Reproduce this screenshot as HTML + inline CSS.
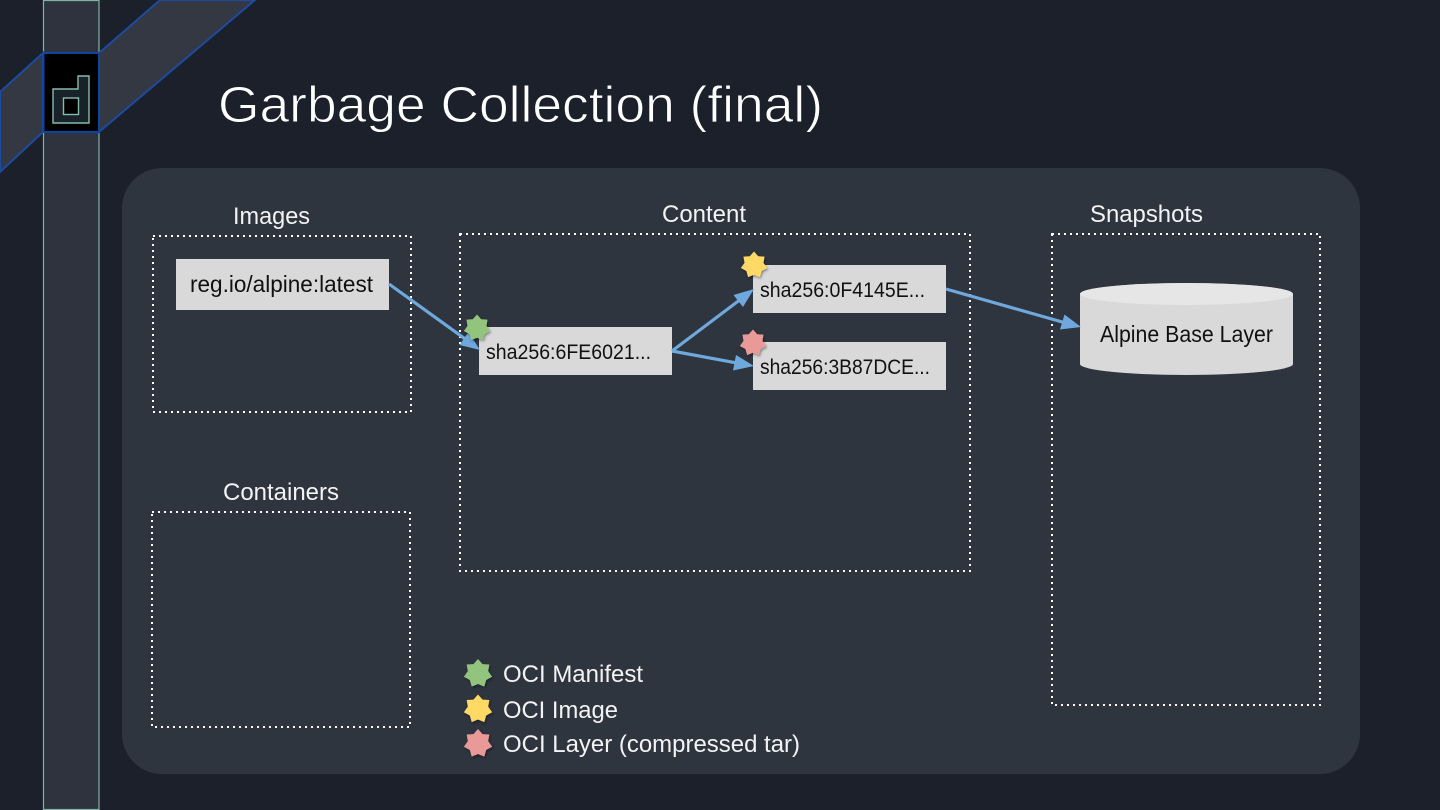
<!DOCTYPE html>
<html>
<head>
<meta charset="utf-8">
<style>
html,body{margin:0;padding:0;background:#1b202b;}
svg{display:block;}
text{font-family:"Liberation Sans",sans-serif;}
</style>
</head>
<body>
<svg width="1440" height="810" viewBox="0 0 1440 810" xmlns="http://www.w3.org/2000/svg">
<defs>
<polygon id="star" points="0,-1 .3124,-.6487 .7818,-.6235 .7019,-.1602 .9749,.2225 .5629,.4489 .4339,.901 0,.72 -.4339,.901 -.5629,.4489 -.9749,.2225 -.7019,-.1602 -.7818,-.6235 -.3124,-.6487"/>
<filter id="sh" x="-30%" y="-30%" width="170%" height="170%"><feDropShadow dx="1" dy="1.5" stdDeviation="1.2" flood-color="#000" flood-opacity=".4"/></filter>
</defs>
<rect width="1440" height="810" fill="#1b202b"/>
<rect x="43.500" y="0.500" width="55.500" height="809" fill="#2e333e" stroke="#7fb5a6" stroke-width="1.200"/>
<polygon points="99,53 160,0 255,0 99,132" fill="#343843" stroke="#1c4ba0" stroke-width="2"/>
<polygon points="43,53 0,92 0,172 43,132" fill="#343843" stroke="#1c4ba0" stroke-width="2"/>
<rect x="43.500" y="53" width="55.500" height="79" fill="#000" stroke="#0e459f" stroke-width="2"/>
<polygon points="53,89 78,89 78,76 89,76 89,123 53,123" fill="#1a2229" stroke="#86bbae" stroke-width="1.400"/>
<rect x="63.500" y="98" width="15" height="16.500" fill="#000" stroke="#86bbae" stroke-width="1.400"/>
<text x="218" y="122" font-size="51" fill="#fff" stroke="#1b202b" stroke-width="0.900" textLength="605" lengthAdjust="spacingAndGlyphs">Garbage Collection (final)</text>
<rect x="122" y="168" width="1238" height="606" rx="40" ry="40" fill="#2f353f"/>
<g fill="none" stroke="#fff" stroke-width="2" stroke-dasharray="2 4">
<rect x="153" y="236" width="258" height="176"/>
<rect x="152" y="512" width="258" height="215"/>
<rect x="460" y="234" width="510" height="337"/>
<rect x="1052" y="234" width="268" height="471"/>
</g>
<g font-size="24" fill="#f3f3f3">
<text x="233" y="224" textLength="77" lengthAdjust="spacingAndGlyphs">Images</text>
<text x="662" y="222" textLength="84" lengthAdjust="spacingAndGlyphs">Content</text>
<text x="1090" y="222" textLength="113" lengthAdjust="spacingAndGlyphs">Snapshots</text>
<text x="223" y="500" textLength="116" lengthAdjust="spacingAndGlyphs">Containers</text>
</g>
<g fill="#d9d9d9">
<rect x="176" y="259" width="213" height="51"/>
<rect x="479" y="327" width="193" height="48"/>
<rect x="753" y="265" width="193" height="48"/>
<rect x="753" y="342" width="193" height="48"/>
</g>
<path d="M1080,294 A106.500,11 0 0 1 1293,294 L1293,364 A106.500,11 0 0 1 1080,364 Z" fill="#d9d9d9"/>
<ellipse cx="1186.500" cy="294" rx="106.500" ry="11" fill="#e6e6e6"/>
<g fill="#111" font-size="21">
<text x="190" y="292" font-size="23" textLength="183" lengthAdjust="spacingAndGlyphs">reg.io/alpine:latest</text>
<text x="486" y="359" textLength="165" lengthAdjust="spacingAndGlyphs">sha256:6FE6021...</text>
<text x="760" y="297" textLength="165" lengthAdjust="spacingAndGlyphs">sha256:0F4145E...</text>
<text x="760" y="374" textLength="170" lengthAdjust="spacingAndGlyphs">sha256:3B87DCE...</text>
<text x="1100" y="342" font-size="23" textLength="173" lengthAdjust="spacingAndGlyphs">Alpine Base Layer</text>
</g>
<g stroke="#6fa8dc" stroke-width="3.200" fill="none">
<line x1="389" y1="284" x2="466" y2="339.600"/>
<line x1="672" y1="351" x2="741" y2="299"/>
<line x1="672" y1="351" x2="738" y2="363.200"/>
<line x1="946" y1="289" x2="1064" y2="322.500"/>
</g>
<g fill="#6fa8dc">
<polygon points="480,350 459.500,345 468.500,332"/>
<polygon points="754,289 743,307 733.500,295"/>
<polygon points="754,366 733,370.500 736,355"/>
<polygon points="1081,327 1060,329.500 1064.500,314.500"/>
</g>
<g filter="url(#sh)">
<use href="#star" transform="translate(477,328) scale(13.500)" fill="#93c47d"/>
<use href="#star" transform="translate(754,265) scale(13.500)" fill="#ffd966"/>
<use href="#star" transform="translate(753,343) scale(13.500)" fill="#ea9999"/>
<use href="#star" transform="translate(478,673.500) scale(14.500)" fill="#93c47d"/>
<use href="#star" transform="translate(478,709) scale(14.500)" fill="#ffd966"/>
<use href="#star" transform="translate(478,743.500) scale(14.500)" fill="#ea9999"/>
</g>
<g font-size="24" fill="#f3f3f3">
<text x="503" y="682" textLength="140" lengthAdjust="spacingAndGlyphs">OCI Manifest</text>
<text x="503" y="718" textLength="115" lengthAdjust="spacingAndGlyphs">OCI Image</text>
<text x="503" y="752" textLength="297" lengthAdjust="spacingAndGlyphs">OCI Layer (compressed tar)</text>
</g>
</svg>
</body>
</html>
